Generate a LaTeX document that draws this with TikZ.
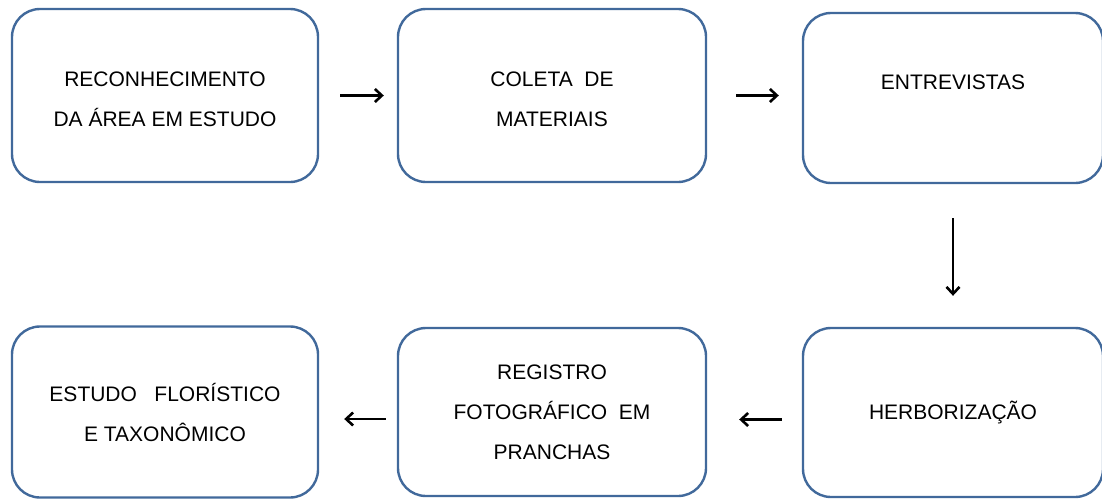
\documentclass[tikz,border=0pt]{standalone}
\usepackage{fontspec}
\setmainfont{Liberation Sans}
\usetikzlibrary{positioning,arrows.meta}
\definecolor{boxblue}{RGB}{65,105,155}
\tikzstyle{etapa} = [draw=boxblue, line width=2.4pt, rounded corners=28pt, align=center, font=\fontsize{21}{40}\selectfont]
\tikzstyle{line} = [draw, line width=2.6pt, -{Straight Barb[length=7pt,width=13pt]}]
\newcommand{\alto}{\rule{0pt}{23pt}}

\begin{document}
\begin{tikzpicture}[x=1pt, y=-1pt]

\useasboundingbox (0,0) rectangle (1102,498);

\node (recon) [etapa, minimum width=306pt, minimum height=173pt] at (165,95.5) {\alto RECONHECIMENTO \\ DA ÁREA EM ESTUDO};

\node (coleta) [etapa, minimum width=308pt, minimum height=173pt, right=77.6pt of recon] {\alto COLETA~~DE \\ MATERIAIS};
\path [line, shorten <=21pt, shorten >=13pt] (recon) -- (coleta);

\node (entrev) [etapa, minimum width=300pt, minimum height=170pt, right=94.6pt of coleta, yshift=-2.5pt] {\alto ENTREVISTAS \\ ~};
\path [line, shorten <=29pt, shorten >=23pt] (coleta.east) -- (coleta.east -| entrev.west);

\node (herbor) [etapa, minimum width=300pt, minimum height=169pt, below=142.6pt of entrev] {HERBORIZAÇÃO};
\path [line, shorten <=34pt, shorten >=31pt] (entrev) -- (herbor);

\node (registro) [etapa, minimum width=308pt, minimum height=168pt, left=94.6pt of herbor, yshift=0.5pt] {REGISTRO \\ FOTOGRÁFICO~~EM \\ PRANCHAS};
\path [line, shorten <=20pt, shorten >=32pt] ([yshift=-7pt]herbor.west) -- ([yshift=-7pt]herbor.west -| registro.east);

\node (estudo) [etapa, minimum width=306pt, minimum height=171pt, left=77.6pt of registro] {ESTUDO~~~FLORÍSTICO \\ E TAXONÔMICO};
\path [line, shorten <=11pt, shorten >=25pt] ([yshift=-7pt]registro.west) -- ([yshift=-7pt]registro.west -| estudo.east);

\end{tikzpicture}
\end{document}
